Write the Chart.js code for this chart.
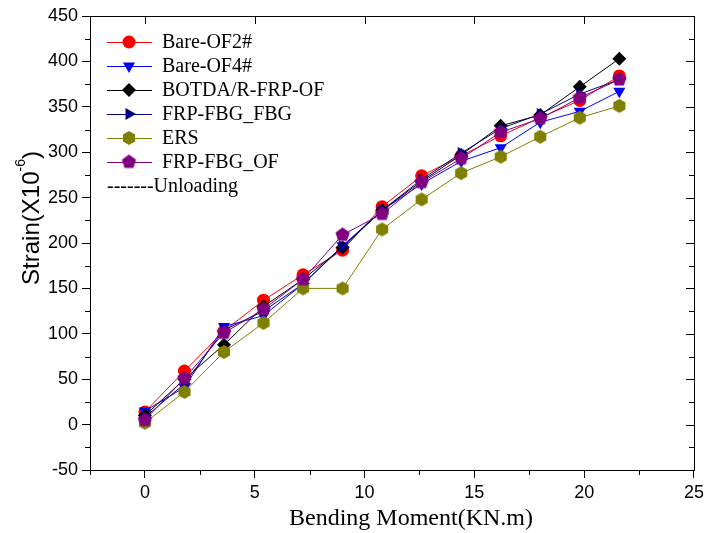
<!DOCTYPE html>
<html lang="en">
<head>
  <meta charset="UTF-8">
  <title>Strain vs Bending Moment</title>
  <script src="https://cdn.jsdelivr.net/npm/chart.js"></script>
  <style>
    html, body { margin: 0; padding: 0; background: #fff; }
    #wrap { width: 708px; height: 533px; }
  </style>
</head>
<body>
  <div id="wrap"><canvas id="chart"></canvas></div>

  <script>
    // data
    const moment    = [0, 1.8, 3.6, 5.4, 7.2, 9, 10.8, 12.6, 14.4, 16.2, 18, 19.8, 21.6];
    const bareOF2   = [14, 59, 103, 137, 165, 192, 240, 274, 296, 318, 338, 357, 384];
    const bareOF4   = [15, 41, 108, 120, 155, 197, 236, 265, 290, 305, 333, 345, 367];
    const botda     = [10, 50, 88, 130, 160, 195, 236, 268, 297, 329, 341, 372, 403];
    const frpFbgFbg = [8, 45, 104, 125, 155, 196, 236, 270, 299, 326, 342, 364, 380];
    const ers       = [2, 36, 80, 112, 150, 150, 215, 248, 277, 295, 317, 338, 351];
    const frpFbgOf  = [5, 51, 101, 127, 160, 209, 232, 267, 293, 322, 337, 360, 380];

    const seriesNames = ["Bare-OF2#", "Bare-OF4#", "BOTDA/R-FRP-OF", "FRP-FBG_FBG", "ERS", "FRP-FBG_OF"];
    const xTicks = [0, 5, 10, 15, 20, 25];
    const yTicks = [-50, 0, 50, 100, 150, 200, 250, 300, 350, 400, 450];

    // custom marker shapes (hexagon, pentagon)
    function polyMarker(sides, color, r, rot) {
      const c = document.createElement("canvas");
      const s = Math.ceil(r * 2 + 2);
      c.width = s; c.height = s;
      const g = c.getContext("2d");
      g.fillStyle = color;
      g.beginPath();
      for (let i = 0; i < sides; i++) {
        const a = rot + i * 2 * Math.PI / sides;
        const px = s / 2 + r * Math.cos(a), py = s / 2 + r * Math.sin(a);
        i ? g.lineTo(px, py) : g.moveTo(px, py);
      }
      g.closePath();
      g.fill();
      return c;
    }
    const hexMark = polyMarker(6, "#808000", 7, -Math.PI / 2);
    const pentMark = polyMarker(5, "#800080", 7.5, -Math.PI / 2);

    const styles = [
      { color: "#FF0000", pointStyle: "circle", radius: 6.5, rotation: 0 },
      { color: "#0000FF", pointStyle: "triangle", radius: 7, rotation: 180 },
      { color: "#000000", pointStyle: "rectRot", radius: 7, rotation: 0 },
      { color: "#000080", pointStyle: "triangle", radius: 7, rotation: 90 },
      { color: "#808000", pointStyle: hexMark, radius: 7, rotation: 0 },
      { color: "#800080", pointStyle: pentMark, radius: 7, rotation: 0 }
    ];
    const values = [bareOF2, bareOF4, botda, frpFbgFbg, ers, frpFbgOf];

    const datasets = values.map((v, i) => ({
      label: seriesNames[i],
      data: v.map((y, j) => ({ x: moment[j], y: y })),
      borderColor: styles[i].color,
      backgroundColor: styles[i].color,
      borderWidth: 1,
      pointStyle: styles[i].pointStyle,
      pointRadius: styles[i].radius,
      pointRotation: styles[i].rotation,
      pointBorderWidth: 0,
      order: values.length - i
    }));

    // frame, minor ticks, inward ticks, legend, axis titles
    const decorations = {
      id: "decorations",
      afterDraw(chart) {
        const { ctx, chartArea: a, scales: { x, y } } = chart;
        ctx.save();
        ctx.strokeStyle = "#000";
        ctx.lineWidth = 1;
        ctx.strokeRect(Math.round(a.left) + 0.5, Math.round(a.top) + 0.5,
          Math.round(a.right - a.left), Math.round(a.bottom - a.top));

        ctx.beginPath();
        for (let v = -2.5; v <= 25; v += 2.5) {
          const px = Math.round(x.getPixelForValue(v)) + 0.5;
          const major = v % 5 === 0;
          if (!major) {
            ctx.moveTo(px, a.bottom); ctx.lineTo(px, a.bottom + 5);
          }
          if (major) {
            ctx.moveTo(px, a.top); ctx.lineTo(px, a.top + 8);
          }
        }
        for (let v = -50; v <= 450; v += 25) {
          const py = Math.round(y.getPixelForValue(v)) + 0.5;
          const major = v % 50 === 0;
          if (!major) {
            ctx.moveTo(a.left, py); ctx.lineTo(a.left - 5, py);
          }
          ctx.moveTo(a.right, py); ctx.lineTo(a.right - (major ? 8 : 5), py);
        }
        ctx.stroke();

        // legend
        ctx.font = "20px 'Liberation Serif', 'Times New Roman', serif";
        ctx.textBaseline = "middle";
        chart.data.datasets.forEach((ds, i) => {
          const ly = 42 + i * 24;
          ctx.strokeStyle = ds.borderColor;
          ctx.lineWidth = 1;
          ctx.beginPath();
          ctx.moveTo(107, ly + 0.5); ctx.lineTo(152, ly + 0.5);
          ctx.stroke();
          ctx.fillStyle = ds.backgroundColor;
          Chart.helpers.drawPoint(ctx, {
            pointStyle: ds.pointStyle, rotation: ds.pointRotation,
            radius: ds.pointRadius, borderWidth: 0
          }, 129, ly);
          ctx.fillStyle = "#000";
          ctx.fillText(ds.label, 162, ly + 1);
        });
        ctx.fillStyle = "#000";
        ctx.fillText("-------Unloading", 107, 42 + 6 * 24 + 1);

        // x axis title
        ctx.font = "24px 'Liberation Serif', 'Times New Roman', serif";
        ctx.textAlign = "center";
        ctx.fillText("Bending Moment(KN.m)", 411, 519);

        // y axis title with superscript
        ctx.translate(30, 218);
        ctx.rotate(-Math.PI / 2);
        ctx.font = "24px 'Liberation Sans', Arial, sans-serif";
        const main = "Strain(X10";
        const sup = "-6";
        const close = ")";
        const w1 = ctx.measureText(main).width;
        const w3 = ctx.measureText(close).width;
        ctx.font = "14px 'Liberation Sans', Arial, sans-serif";
        const w2 = ctx.measureText(sup).width;
        let sx = -(w1 + w2 + w3) / 2;
        ctx.font = "24px 'Liberation Sans', Arial, sans-serif";
        ctx.textAlign = "left";
        ctx.fillText(main, sx, 2);
        ctx.font = "14px 'Liberation Sans', Arial, sans-serif";
        ctx.fillText(sup, sx + w1, -9);
        ctx.font = "24px 'Liberation Sans', Arial, sans-serif";
        ctx.fillText(close, sx + w1 + w2, 2);
        ctx.restore();
      }
    };

    new Chart(document.getElementById("chart"), {
      type: "line",
      data: { datasets: datasets },
      options: {
        responsive: true,
        maintainAspectRatio: false,
        animation: false,
        layout: { padding: { top: 16, right: 11, left: 0, bottom: 0 } },
        plugins: { legend: { display: false }, tooltip: { enabled: false } },
        scales: {
          x: {
            type: "linear",
            min: -2.5,
            max: 25,
            afterBuildTicks: s => { s.ticks = xTicks.map(v => ({ value: v })); },
            afterFit: s => { s.height = 63; },
            grid: { drawOnChartArea: false, tickLength: 8, color: "#000" },
            border: { display: false },
            ticks: {
              color: "#000",
              padding: 4,
              maxRotation: 0,
              font: { family: "'Liberation Sans', Arial, sans-serif", size: 18 }
            }
          },
          y: {
            min: -50,
            max: 450,
            afterBuildTicks: s => { s.ticks = yTicks.map(v => ({ value: v })); },
            afterFit: s => { s.width = 90; },
            grid: { drawOnChartArea: false, tickLength: 8, color: "#000" },
            border: { display: false },
            ticks: {
              color: "#000",
              padding: 4,
              font: { family: "'Liberation Sans', Arial, sans-serif", size: 18 }
            }
          }
        }
      },
      plugins: [decorations]
    });
  </script>
</body>
</html>
